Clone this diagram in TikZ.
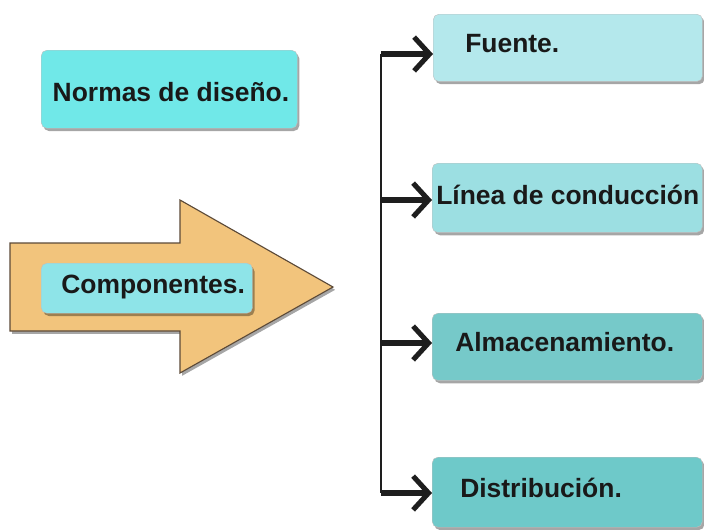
\documentclass[tikz,border=0pt]{standalone}
\usepackage{fontspec}
\setmainfont{Liberation Sans}
\usetikzlibrary{arrows.meta,shadows}
\definecolor{normasc}{RGB}{112,232,232}
\definecolor{compc}{RGB}{142,228,232}
\definecolor{flechac}{RGB}{242,196,124}
\definecolor{bordec}{RGB}{92,74,56}
\definecolor{fuentec}{RGB}{180,232,236}
\definecolor{lineac}{RGB}{156,223,226}
\definecolor{almac}{RGB}{118,201,201}
\definecolor{distc}{RGB}{110,201,201}
\definecolor{trazo}{RGB}{30,30,30}

\begin{document}
\begin{tikzpicture}[x=0.025cm, y=-0.025cm,
        caja/.style={rounded corners=4pt, draw=black!25, line width=0.3pt, anchor=north west, inner sep=0pt,
            drop shadow={shadow xshift=1.5pt, shadow yshift=-2pt, opacity=0.35, fill=black}},
        texto/.style={font=\bfseries\fontsize{18.8}{22}\selectfont, text=black!90, inner sep=0pt},
        flecha/.style={draw=trazo, line width=3.6pt, -{Straight Barb[length=11pt, width=24pt]}},
        tronco/.style={draw=trazo, line width=1.6pt}]
    \useasboundingbox (0,0) rectangle (704,529);

    % izquierda
    \node[caja, fill=normasc, minimum width=6.4cm, minimum height=1.95cm] (normas) at (41,50) {};
    \node[texto] (normas-t) at (171,92) {Normas de diseño.};

    \filldraw[fill=flechac, draw=bordec, line width=0.8pt, drop shadow={shadow xshift=1.5pt, shadow yshift=-2pt, opacity=0.35, fill=black}]
        (10,243) -- (180,243) -- (180,200) -- (333,287) -- (180,373) -- (180,331) -- (10,331) -- cycle;
    \node[caja, fill=compc, minimum width=5.28cm, minimum height=1.25cm] (comp) at (41,263) {};
    \node[texto, anchor=west] (comp-t) at (61,287) {Componentes.};

    % derecha
    \node[caja, fill=fuentec, minimum width=6.73cm, minimum height=1.68cm] (fuente) at (433,14) {};
    \node[texto, anchor=west] (fuente-t) at (465,44) {Fuente.};
    \node[caja, fill=lineac, minimum width=6.75cm, minimum height=1.73cm] (linea) at (432,163) {};
    \node[texto, anchor=west] (linea-t) at (436,195) {Línea de conducción};
    \node[caja, fill=almac, minimum width=6.75cm, minimum height=1.68cm] (alma) at (432,313) {};
    \node[texto, anchor=west] (alma-t) at (455,342) {Almacenamiento.};
    \node[caja, fill=distc, minimum width=6.75cm, minimum height=1.75cm] (dist) at (432,457) {};
    \node[texto, anchor=west] (dist-t) at (460,488) {Distribución.};

    % ramas
    \coordinate (r1) at (381,54); \coordinate (r2) at (381,200); \coordinate (r3) at (381,343); \coordinate (r4) at (381,493);
    \draw[tronco] (r1) -- (r4);
    \draw[flecha] (r1) -- (r1 -| fuente.west); \draw[flecha] (r2) -- (r2 -| linea.west);
    \draw[flecha] (r3) -- (r3 -| alma.west); \draw[flecha] (r4) -- (r4 -| dist.west);
\end{tikzpicture}
\end{document}
